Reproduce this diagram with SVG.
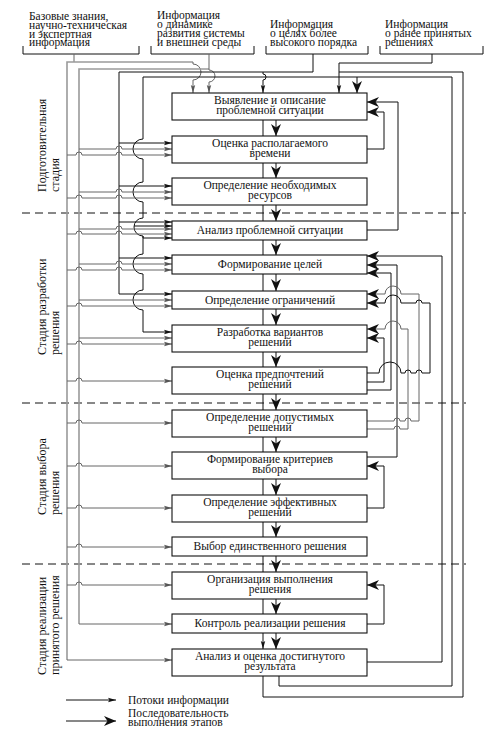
<svg xmlns="http://www.w3.org/2000/svg" width="490" height="742" viewBox="0 0 490 742">
<defs>
<style>
.t{font-family:"Liberation Serif","Times New Roman",serif;font-size:11.5px;fill:#111}
.s{font-family:"Liberation Serif","Times New Roman",serif;font-size:12px;fill:#111}
.c{text-anchor:middle}
.box{fill:#fff;stroke:#111;stroke-width:1.1}
.k{fill:none;stroke:#111;stroke-width:1}
.g{fill:none;stroke:#9a9a9a;stroke-width:1.6}
.gb{fill:none;stroke:#666;stroke-width:1}
.d{fill:none;stroke:#111;stroke-width:1;stroke-dasharray:8 5}
.sa{marker-end:url(#sm)}
.ga{marker-end:url(#gm)}
.ba{marker-end:url(#bg)}
</style>
<marker id="sm" markerUnits="userSpaceOnUse" markerWidth="8" markerHeight="6" viewBox="0 0 8 6" refX="8" refY="3" orient="auto"><path d="M0,0.8 L8,3 L0,5.2 L1.5,3 z" fill="#111"/></marker>
<marker id="gm" markerUnits="userSpaceOnUse" markerWidth="8" markerHeight="6" viewBox="0 0 8 6" refX="8" refY="3" orient="auto"><path d="M0,0.8 L8,3 L0,5.2 L1.5,3 z" fill="#555"/></marker>
<marker id="bg" markerUnits="userSpaceOnUse" markerWidth="12" markerHeight="10" viewBox="0 0 12 10" refX="12" refY="5" orient="auto"><path d="M0,0 L12,5 L0,10 L3.5,5 z" fill="#111"/></marker>
</defs>
<rect width="490" height="742" fill="#fff"/>

<g id="sources">
<path class="k" d="M23,46 V54 H139 V46 M151,46 V54 H254 V46 M266,46 V54 H368 V46 M380,46 V54 H483 V46"/>
<text class="t" x="29" y="20">Базовые знания,</text>
<text class="t" x="29" y="29">научно-техническая</text>
<text class="t" x="29" y="37.5">и экспертная</text>
<text class="t" x="29" y="46">информация</text>
<text class="t" x="157" y="19">Информация</text>
<text class="t" x="157" y="28">о динамике</text>
<text class="t" x="157" y="37">развития системы</text>
<text class="t" x="157" y="45.5">и внешней среды</text>
<text class="t" x="270" y="28">Информация</text>
<text class="t" x="270" y="37">о целях более</text>
<text class="t" x="270" y="45.5">высокого порядка</text>
<text class="t" x="385" y="28">Информация</text>
<text class="t" x="385" y="37">о ранее принятых</text>
<text class="t" x="385" y="45.5">решениях</text>
</g>

<g id="stages">
<text class="s" transform="translate(46,192) rotate(-90)">Подготовительная</text>
<text class="s" transform="translate(59,192) rotate(-90)">стадия</text>
<text class="s" transform="translate(46,355) rotate(-90)">Стадия разработки</text>
<text class="s" transform="translate(59,355) rotate(-90)">решения</text>
<text class="s" transform="translate(46,515) rotate(-90)">Стадия выбора</text>
<text class="s" transform="translate(59,515) rotate(-90)">решения</text>
<text class="s" transform="translate(46,675) rotate(-90)">Стадия реализации</text>
<text class="s" transform="translate(59,675) rotate(-90)">принятого решения</text>
</g>

<g id="dividers">
<path class="d" d="M22,213 H466 M22,403 H466 M22,564 H466"/>
</g>

<g id="connectors">
<!-- top sources -->
<path class="gb" d="M74,54 V62"/>
<path class="g" d="M67,660 V62 H193"/>
<path class="gb ga" d="M193,62 V64 a8,8 0 0 1 0,16 V93"/>
<path class="g" d="M79,624 V69 H209"/>
<path class="gb" d="M209,54 V69"/>
<path class="gb ga" d="M209,69 V70 a6,6 0 0 1 0,12 V93"/>
<path class="k sa" d="M313,54 V72 H119 V294 H172"/>
<path class="k sa" d="M263,72 V74 a3,3 0 0 1 0,6 V93"/>
<path class="k sa" d="M432,54 V63 H339 V93"/>
<path class="k" d="M263,676 V697 H463 V72 H339"/>
<path class="k sa" d="M279,676 V686 H452 V77 H143 V139 a10,10 0 0 0 0,20 V182 a10,10 0 0 0 0,20 V218 a9,9 0 0 0 0,18 V254 a10,10 0 0 0 0,20 V290 a10,10 0 0 0 0,20 V332 H172"/>
<path class="k ba" d="M357,77 V93"/>

<!-- left inputs -->
<path class="k sa" d="M119,143 H172"/>
<path class="gb ga" d="M79,149 H116 a3,3 0 0 1 6,0 H172"/>
<path class="gb ga" d="M67,155 H76 a3,3 0 0 1 6,0 H116 a3,3 0 0 1 6,0 H172"/>
<path class="k sa" d="M119,186 H172"/>
<path class="gb ga" d="M79,192 H116 a3,3 0 0 1 6,0 H172"/>
<path class="gb ga" d="M67,198 H76 a3,3 0 0 1 6,0 H116 a3,3 0 0 1 6,0 H172"/>
<path class="k sa" d="M119,222 H172"/>
<path class="k sa" d="M134.1,226 H172"/>
<path class="gb ga" d="M79,229 H116 a3,3 0 0 1 6,0 H172"/>
<path class="gb ga" d="M67,234 H76 a3,3 0 0 1 6,0 H116 a3,3 0 0 1 6,0 H172"/>
<path class="k sa" d="M143,236 V238 H172"/>
<path class="k sa" d="M119,258 H172"/>
<path class="gb ga" d="M79,264 H116 a3,3 0 0 1 6,0 H172"/>
<path class="gb ga" d="M67,270 H76 a3,3 0 0 1 6,0 H116 a3,3 0 0 1 6,0 H172"/>
<path class="gb ga" d="M79,300 H172"/>
<path class="gb ga" d="M67,306 H76 a3,3 0 0 1 6,0 H172"/>
<path class="gb ga" d="M79,338 H172"/>
<path class="gb ga" d="M67,344 H76 a3,3 0 0 1 6,0 H172"/>
<path class="gb ga" d="M67,381 H76 a3,3 0 0 1 6,0 H172"/>
<path class="gb ga" d="M67,423 H76 a3,3 0 0 1 6,0 H172"/>
<path class="gb ga" d="M67,466 H76 a3,3 0 0 1 6,0 H172"/>
<path class="gb ga" d="M67,508 H76 a3,3 0 0 1 6,0 H172"/>
<path class="gb ga" d="M67,547 H76 a3,3 0 0 1 6,0 H172"/>
<path class="gb ga" d="M67,585 H76 a3,3 0 0 1 6,0 H172"/>
<path class="gb ga" d="M79,624 H172"/>
<path class="gb ga" d="M67,660 H172"/>

<!-- sequence between stages -->
<path class="k sa" d="M263,120 V136 M263,163 V178 M263,205 V221 M263,240 V255 M263,274 V291 M263,309 V325 M263,352 V367 M263,394 V410 M263,437 V452 M263,479 V495 M263,522 V537 M263,556 V572 M263,599 V614 M263,633 V649"/>
<path class="k ba" d="M276,120 V136"/>
<path class="k ba" d="M276,163 V178"/>
<path class="k ba" d="M276,205 V221"/>
<path class="k ba" d="M276,240 V255"/>
<path class="k ba" d="M276,274 V291"/>
<path class="k ba" d="M276,309 V325"/>
<path class="k ba" d="M276,352 V367"/>
<path class="k ba" d="M276,394 V410"/>
<path class="k ba" d="M276,437 V452"/>
<path class="k ba" d="M276,479 V495"/>
<path class="k ba" d="M276,522 V537"/>
<path class="k ba" d="M276,556 V572"/>
<path class="k ba" d="M276,599 V614"/>
<path class="k ba" d="M276,633 V649"/>

<!-- right feedback -->
<path class="k ba" d="M367,230 H398 V102 H367"/>
<path class="k ba" d="M367,149 H384 V112 H367"/>
<path class="k ba" d="M367,662 H442 V256 H367"/>
<path class="k ba" d="M367,457 H397 V265 H367"/>
<path class="k ba" d="M367,390 H391 V273 H367"/>
<path class="gb ba" d="M367,421 H394 a3,3 0 0 1 6,0 H405 a3,3 0 0 1 6,0 H419 V294 H401 a8,8 0 0 0 -16,0 H367"/>
<path class="gb ba" d="M367,429 H394 a3,3 0 0 1 6,0 H408 V329 H401 a8,8 0 0 0 -16,0 H367"/>
<path class="k ba" d="M367,373 H379 a11,11 0 0 1 22,0 H405 a3,3 0 0 1 6,0 H416 a3,3 0 0 1 6,0 H430 V303 H422 a3,3 0 0 0 -6,0 H401 a8,8 0 0 0 -16,0 H367"/>
<path class="k ba" d="M367,382 H384 V338 H367"/>
<path class="k ba" d="M367,508 H384 V466 H367"/>
<path class="k ba" d="M367,624 H384 V585 H367"/>
</g>

<g id="n1"><rect class="box" x="172" y="93" width="195" height="27"/><text class="t c" x="270" y="104">Выявление и описание</text><text class="t c" x="270" y="114">проблемной ситуации</text></g>
<g id="n2"><rect class="box" x="172" y="136" width="195" height="27"/><text class="t c" x="270" y="147">Оценка располагаемого</text><text class="t c" x="270" y="157">времени</text></g>
<g id="n3"><rect class="box" x="172" y="178" width="195" height="27"/><text class="t c" x="270" y="189">Определение необходимых</text><text class="t c" x="270" y="199">ресурсов</text></g>
<g id="n4"><rect class="box" x="172" y="221" width="195" height="19"/><text class="t c" x="270" y="234">Анализ проблемной ситуации</text></g>
<g id="n5"><rect class="box" x="172" y="255" width="195" height="19"/><text class="t c" x="270" y="268">Формирование целей</text></g>
<g id="n6"><rect class="box" x="172" y="291" width="195" height="18"/><text class="t c" x="270" y="304">Определение ограничений</text></g>
<g id="n7"><rect class="box" x="172" y="325" width="195" height="27"/><text class="t c" x="270" y="336">Разработка вариантов</text><text class="t c" x="270" y="346">решений</text></g>
<g id="n8"><rect class="box" x="172" y="367" width="195" height="27"/><text class="t c" x="270" y="378">Оценка предпочтений</text><text class="t c" x="270" y="388">решений</text></g>
<g id="n9"><rect class="box" x="172" y="410" width="195" height="27"/><text class="t c" x="270" y="421">Определение допустимых</text><text class="t c" x="270" y="431">решений</text></g>
<g id="n10"><rect class="box" x="172" y="452" width="195" height="27"/><text class="t c" x="270" y="463">Формирование критериев</text><text class="t c" x="270" y="473">выбора</text></g>
<g id="n11"><rect class="box" x="172" y="495" width="195" height="27"/><text class="t c" x="270" y="506">Определение эффективных</text><text class="t c" x="270" y="516">решений</text></g>
<g id="n12"><rect class="box" x="172" y="537" width="195" height="19"/><text class="t c" x="270" y="550">Выбор единственного решения</text></g>
<g id="n13"><rect class="box" x="172" y="572" width="195" height="27"/><text class="t c" x="270" y="583">Организация выполнения</text><text class="t c" x="270" y="593">решения</text></g>
<g id="n14"><rect class="box" x="172" y="614" width="195" height="19"/><text class="t c" x="270" y="627">Контроль реализации решения</text></g>
<g id="n15"><rect class="box" x="172" y="649" width="195" height="27"/><text class="t c" x="270" y="660">Анализ и оценка достигнутого</text><text class="t c" x="270" y="670">результата</text></g>

<g id="legend">
<path class="k sa" d="M66,700 H116"/>
<path class="k ba" d="M66,721 H116"/>
<text class="t" x="128" y="704">Потоки информации</text>
<text class="t" x="128" y="717">Последовательность</text>
<text class="t" x="128" y="726">выполнения этапов</text>
</g>
</svg>
